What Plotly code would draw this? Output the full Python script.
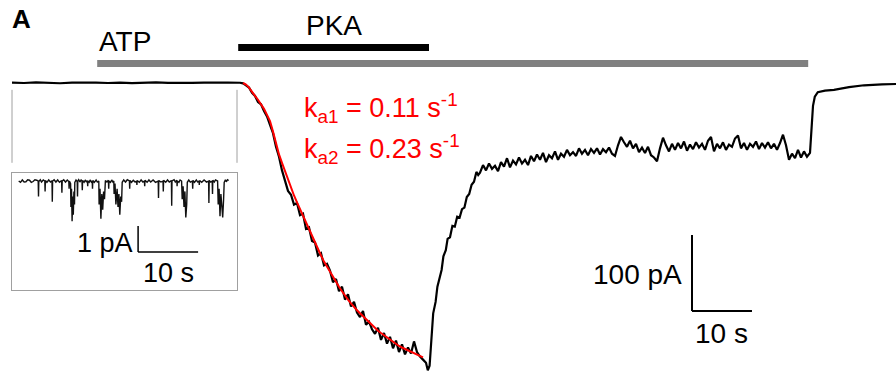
import plotly.graph_objects as go

# ---------------- data (time in s, current in pA) ----------------
atp_on, atp_off = 14.2, 132.7      # ATP application
pka_on, pka_off = 37.7, 69.5       # PKA application

baseline = [(0, 0.5), (2, 0.0), (4, 0.8), (6, 0.2), (8, -0.3), (10, 0.6), (12, 0.9), (14, 0.4),
            (16, 0.0), (18, 0.5), (20, -0.2), (22, 0.3), (24, 0.7), (26, 0.2), (28, 0.6), (30, 0.1),
            (32, 0.4), (34, 0.9), (36, 0.5), (38, 0.3)]

activation = [(38.5, -0.5), (39.0, -3), (39.5, -6), (40.0, -13), (40.5, -17), (41.0, -25), (41.5, -28),
              (42.0, -37), (42.5, -44), (43.0, -55), (43.5, -66), (44.0, -84), (44.5, -97), (45.0, -115),
              (45.5, -128), (46.0, -142), (46.5, -147), (47.0, -160), (47.5, -158), (48.0, -174),
              (48.5, -172), (49.0, -192), (49.5, -190), (50.0, -208), (50.5, -210), (51.0, -227),
              (51.5, -224), (52.0, -240), (52.5, -238), (53.0, -247), (53.5, -262), (54.0, -258),
              (54.5, -274), (55.0, -268), (55.5, -285), (56.0, -278), (56.5, -294), (57.0, -288),
              (57.5, -302), (58.0, -308), (58.5, -300), (59.0, -318), (59.5, -314), (60.0, -324),
              (60.5, -330), (61.0, -322), (61.5, -338), (62.0, -329), (62.5, -343), (63.0, -334),
              (63.5, -349), (64.0, -339), (64.5, -354), (65.0, -344), (65.5, -357), (66.0, -348),
              (66.5, -356), (67.0, -340), (67.5, -354), (68.0, -360), (68.5, -364), (69.0, -368),
              (69.3, -378), (69.6, -372)]

recovery = [(70.2, -303), (70.6, -288), (70.9, -268), (71.3, -255), (71.6, -246), (71.9, -228),
            (72.3, -220), (72.6, -205), (73.0, -203), (73.4, -188), (73.8, -189), (74.2, -176),
            (74.6, -177), (75.0, -166), (75.4, -164), (75.8, -150), (76.2, -146), (76.6, -134),
            (77.0, -130), (77.4, -117), (77.7, -121)]

plateau = [(78.0, -118), (78.5, -108), (79.0, -115), (79.5, -106), (80.0, -113), (80.5, -109),
           (81.0, -116), (81.5, -104), (82.0, -110), (82.5, -99), (83.0, -111), (83.5, -102),
           (84.0, -107), (84.5, -98), (85.0, -106), (85.5, -101), (86.0, -108), (86.5, -96),
           (87.0, -103), (87.5, -94), (88.0, -101), (88.5, -92), (89.0, -104), (89.5, -95),
           (90.0, -99), (90.5, -90), (91.0, -101), (91.5, -93), (92.0, -97), (92.5, -88),
           (93.0, -95), (93.5, -91), (94.0, -96), (94.5, -86), (95.0, -93), (95.5, -88),
           (96.0, -95), (96.5, -87), (97.0, -92), (97.5, -86), (98.0, -94), (98.5, -87),
           (99.0, -91), (99.5, -85), (100.0, -93), (100.5, -96), (101.0, -82), (101.5, -71),
           (102.0, -78), (102.5, -84), (103.0, -76), (103.5, -86), (104.0, -80), (104.5, -91),
           (105.0, -85), (105.5, -92), (106.0, -84), (106.5, -95), (107.0, -98), (107.5, -103),
           (108.0, -86), (108.5, -72), (109.0, -82), (109.5, -90), (110.0, -80), (110.5, -88),
           (111.0, -79), (111.5, -86), (112.0, -77), (112.5, -89), (113.0, -81), (113.5, -87),
           (114.0, -78), (114.5, -85), (115.0, -80), (115.5, -88), (116.0, -76), (116.5, -71),
           (117.0, -90), (117.5, -80), (118.0, -86), (118.5, -78), (119.0, -88), (119.5, -81),
           (120.0, -84), (120.5, -73), (121.0, -69), (121.5, -86), (122.0, -79), (122.5, -88),
           (123.0, -80), (123.5, -84), (124.0, -77), (124.5, -87), (125.0, -79), (125.5, -85),
           (126.0, -78), (126.5, -86), (127.0, -80), (127.5, -88), (128.0, -79), (128.5, -68),
           (129.0, -82), (129.5, -101), (130.0, -93), (130.5, -99), (131.0, -88), (131.5, -98),
           (132.0, -90), (132.5, -97), (133.0, -92)]

washout = [(133.3, -60), (133.5, -30), (133.8, -18), (134.3, -12), (135.5, -10), (137.0, -9),
           (139.5, -5.5), (142.0, -3), (145.0, -1.8), (147.4, -1.3)]

fit_t = [38.5, 39, 39.5, 40, 40.5, 41, 41.5, 42, 42.5, 43, 43.5, 44, 44.5, 45, 45.5, 46, 46.5, 47,
         47.5, 48, 48.5, 49, 49.5, 50, 50.5, 51, 51.5, 52, 52.5, 53, 53.5, 54, 54.5, 55, 55.5, 56,
         56.5, 57, 57.5, 58, 58.5, 59, 59.5, 60, 60.5, 61, 61.5, 62, 62.5, 63, 63.5, 64, 64.5, 65,
         65.5, 66, 66.5, 67, 67.5, 68, 68.5]
fit_i = [0, -2, -6, -12, -17, -22, -28, -34, -42, -50, -64, -80, -94, -105, -116, -127, -138, -148,
         -157, -166, -174, -183, -191, -200, -209, -218, -227, -235, -242, -249, -256, -262, -268,
         -274, -280, -285, -290, -295, -299, -303, -307, -311, -315, -319, -323, -326, -329, -332,
         -335, -338, -341, -343, -346, -348, -350, -352, -354, -356, -358, -359, -361]

# inset: single-channel recording (time s, current pA)
inset_pts = [(0.0, 0.00), (0.3, -0.05), (0.6, 0.04), (0.9, -0.04), (1.2, -0.03), (1.5, 0.05), (1.8, 0.03),
             (2.1, -0.05), (2.4, -0.02), (2.7, 0.05), (3.0, 0.03),
             (3.25, 0.0), (3.3, -0.6), (3.35, -0.02), (3.6, 0.05), (3.8, -0.04), (4.1, 0.04), (4.35, 0.0),
             (4.4, -0.4), (4.45, 0.02), (4.7, -0.05), (5.0, 0.04), (5.3, -0.04), (5.55, 0.01),
             (5.6, -0.8), (5.65, 0.0), (5.9, 0.05), (6.2, -0.04), (6.5, 0.04), (6.8, -0.05),
             (7.15, 0.02), (7.2, -0.45), (7.25, 0.0), (7.5, 0.05), (7.8, -0.04), (8.1, 0.04), (8.35, -0.02),
             (8.4, -0.3), (8.45, 0.0), (8.65, -0.1), (8.7, -1.0), (8.8, -0.3), (8.9, -1.55),
             (9.0, -0.6), (9.1, -1.3), (9.2, -0.4), (9.3, -0.9), (9.35, -0.05), (9.55, 0.04), (9.75, -0.02),
             (9.8, -0.6), (9.85, 0.0), (10.0, 0.05), (10.2, -0.04), (10.4, 0.04), (10.55, 0.0),
             (10.6, -0.35), (10.65, 0.02), (10.9, -0.05), (11.1, 0.04), (11.3, -0.04), (11.45, 0.02),
             (11.5, -0.2), (11.55, 0.0), (11.75, -0.05), (11.9, 0.04), (12.1, -0.04), (12.25, 0.0),
             (12.3, -0.3), (12.35, 0.02), (12.6, -0.05), (12.9, 0.04), (13.1, -0.04), (13.35, 0.0),
             (13.4, -0.9), (13.55, -0.3),
             (13.7, -1.45), (13.85, -0.5), (14.0, -1.1), (14.15, -0.4), (14.3, -0.7), (14.4, -0.1),
             (14.45, 0.02), (14.7, -0.04), (14.95, 0.03), (15.0, -0.3), (15.05, 0.0), (15.3, -0.05),
             (15.5, 0.04), (15.7, -0.04), (15.85, 0.0),
             (15.9, -0.5), (16.05, -0.1), (16.2, -0.9), (16.4, -0.3), (16.55, -1.0), (16.7, -0.5),
             (16.85, -1.3), (17.0, -0.6), (17.15, -0.8), (17.25, -0.05), (17.5, 0.04), (17.8, -0.04),
             (18.1, 0.05), (18.45, 0.0),
             (18.5, -0.3), (18.55, 0.02), (18.8, -0.05), (19.1, 0.03), (19.4, -0.04), (19.65, 0.0),
             (19.7, -0.15), (19.75, 0.02), (20.1, -0.05), (20.4, 0.04), (20.7, -0.04), (20.95, 0.0),
             (21.0, -0.2), (21.05, 0.03), (21.4, -0.05), (21.7, 0.04), (22.0, -0.04), (22.4, 0.04),
             (22.8, -0.05), (23.25, 0.0), (23.3, -0.65), (23.35, 0.02), (23.7, -0.04), (24.05, 0.0),
             (24.1, -0.4), (24.15, 0.03), (24.5, -0.05), (24.8, 0.04), (25.1, -0.04), (25.45, 0.02),
             (25.5, -0.95), (25.55, 0.0), (25.9, 0.05), (26.1, -0.04), (26.35, 0.03), (26.4, -0.2),
             (26.45, 0.0), (26.7, -0.05), (26.9, 0.04), (27.15, 0.0), (27.25, -0.7), (27.4, -0.2),
             (27.55, -1.0), (27.7, -0.4), (27.85, -1.4), (28.0, -0.9), (28.1, -0.05), (28.35, 0.04),
             (28.6, -0.04), (28.95, 0.0), (29.0, -0.3), (29.05, 0.02), (29.3, -0.05), (29.6, 0.04),
             (29.85, -0.04), (30.05, 0.0), (30.1, -0.15), (30.15, 0.02), (30.5, -0.05), (30.9, 0.04),
             (31.3, -0.04), (31.65, 0.0), (31.7, -0.85), (31.75, 0.02), (32.0, -0.04), (32.25, 0.0),
             (32.3, -0.5), (32.35, 0.03), (32.6, -0.04), (32.8, 0.04), (33.15, 0.0), (33.25, -0.9),
             (33.4, -0.3), (33.55, -1.35), (33.7, -0.5), (33.85, -1.0), (34.0, -1.4), (34.15, -0.7),
             (34.25, -0.05), (34.45, 0.05), (34.6, -0.03), (34.8, 0.05), (35.0, 0.02)]

scale_main = (10, 100)   # 10 s, 100 pA
scale_inset = (10, 1)    # 10 s, 1 pA

# ---------------- figure ----------------
FONT = "Liberation Sans, Arial, sans-serif"
trace_pts = baseline + activation + recovery + plateau + washout
tt = [p[0] for p in trace_pts]
ii = [p[1] for p in trace_pts]

fig = go.Figure()
fig.add_trace(go.Scatter(x=tt, y=ii, mode="lines", line=dict(color="black", width=2.2),
                         hoverinfo="skip", showlegend=False))
fig.add_trace(go.Scatter(x=fit_t, y=fit_i, mode="lines", line=dict(color="#ff0000", width=2),
                         hoverinfo="skip", showlegend=False))
fig.add_trace(go.Scatter(x=[p[0] for p in inset_pts], y=[p[1] for p in inset_pts],
                         xaxis="x2", yaxis="y2", mode="lines",
                         line=dict(color="#111111", width=1.4), hoverinfo="skip", showlegend=False))

W, H = 896, 377
fig.update_layout(
    width=W, height=H, margin=dict(l=0, r=0, t=0, b=0),
    paper_bgcolor="white", plot_bgcolor="white",
    xaxis=dict(range=[-2, 147.333], domain=[0, 1], visible=False),
    yaxis=dict(range=[-386.84, 109.21], domain=[0, 1], visible=False),
    xaxis2=dict(range=[-1.117, 36.383], domain=[12 / W, 237 / W], anchor="y2",
                showline=True, mirror=True, linecolor="#a0a0a0", linewidth=1,
                showgrid=False, zeroline=False, showticklabels=False, ticks=""),
    yaxis2=dict(range=[-4.192, 0.308], domain=[(H - 290) / H, (H - 173) / H], anchor="x2",
                showline=True, mirror=True, linecolor="#a0a0a0", linewidth=1,
                showgrid=False, zeroline=False, showticklabels=False, ticks=""),
    font=dict(family=FONT, color="black"),
)

shapes = []
# application bars
shapes.append(dict(type="line", xref="x", yref="y", x0=atp_on, x1=atp_off, y0=25.7, y1=25.7,
                   line=dict(color="#808080", width=7)))
shapes.append(dict(type="line", xref="x", yref="y", x0=pka_on, x1=pka_off, y0=46.7, y1=46.7,
                   line=dict(color="black", width=7)))
# connector lines to inset
for xc in (0, 37.5):
    shapes.append(dict(type="line", xref="x", yref="y", x0=xc, x1=xc, y0=-9, y1=-105,
                       line=dict(color="#a0a0a0", width=1)))
# main scale bar
sx, sy = 113.33, -200
shapes.append(dict(type="line", xref="x", yref="y", x0=sx, x1=sx, y0=sy, y1=sy - scale_main[1],
                   line=dict(color="black", width=2)))
shapes.append(dict(type="line", xref="x", yref="y", x0=sx, x1=sx + scale_main[0],
                   y0=sy - scale_main[1], y1=sy - scale_main[1], line=dict(color="black", width=2)))
# inset scale bar
ix, iy = 19.9, -1.73
shapes.append(dict(type="line", xref="x2", yref="y2", x0=ix, x1=ix, y0=iy, y1=iy - scale_inset[1],
                   line=dict(color="black", width=1.5)))
shapes.append(dict(type="line", xref="x2", yref="y2", x0=ix, x1=ix + scale_inset[0],
                   y0=iy - scale_inset[1], y1=iy - scale_inset[1], line=dict(color="black", width=1.5)))
fig.update_layout(shapes=shapes)

ann = []
ann.append(dict(text="A", xref="paper", yref="paper", x=10 / W, y=1 - 19 / H,
                xanchor="left", yanchor="middle", showarrow=False,
                font=dict(size=26, family="Liberation Sans, Arial, sans-serif", weight="bold")))
ann.append(dict(text="ATP", xref="x", yref="y", x=atp_on, y=55, xanchor="left", yanchor="middle",
                showarrow=False, font=dict(size=28)))
ann.append(dict(text="PKA", xref="x", yref="y", x=(pka_on + pka_off) / 2, y=76, xanchor="center",
                yanchor="middle", showarrow=False, font=dict(size=28)))
ann.append(dict(text="k<sub>a1</sub> = 0.11 s<sup>-1</sup>", xref="x", yref="y", x=48.3, y=-33,
                xanchor="left", yanchor="middle", showarrow=False, font=dict(size=27, color="#ff0000")))
ann.append(dict(text="k<sub>a2</sub> = 0.23 s<sup>-1</sup>", xref="x", yref="y", x=48.3, y=-87,
                xanchor="left", yanchor="middle", showarrow=False, font=dict(size=27, color="#ff0000")))
ann.append(dict(text="100 pA", xref="x", yref="y", x=112.0, y=-252, xanchor="right", yanchor="middle",
                showarrow=False, font=dict(size=28)))
ann.append(dict(text="10 s", xref="x", yref="y", x=sx + scale_main[0] / 2, y=-330, xanchor="center",
                yanchor="middle", showarrow=False, font=dict(size=28)))
ann.append(dict(text="1 pA", xref="x2", yref="y2", x=19.4, y=-2.37, xanchor="right", yanchor="middle",
                showarrow=False, font=dict(size=27)))
ann.append(dict(text="10 s", xref="x2", yref="y2", x=24.9, y=-3.55, xanchor="center", yanchor="middle",
                showarrow=False, font=dict(size=27)))
fig.update_layout(annotations=ann)

fig.write_html("out.html")
